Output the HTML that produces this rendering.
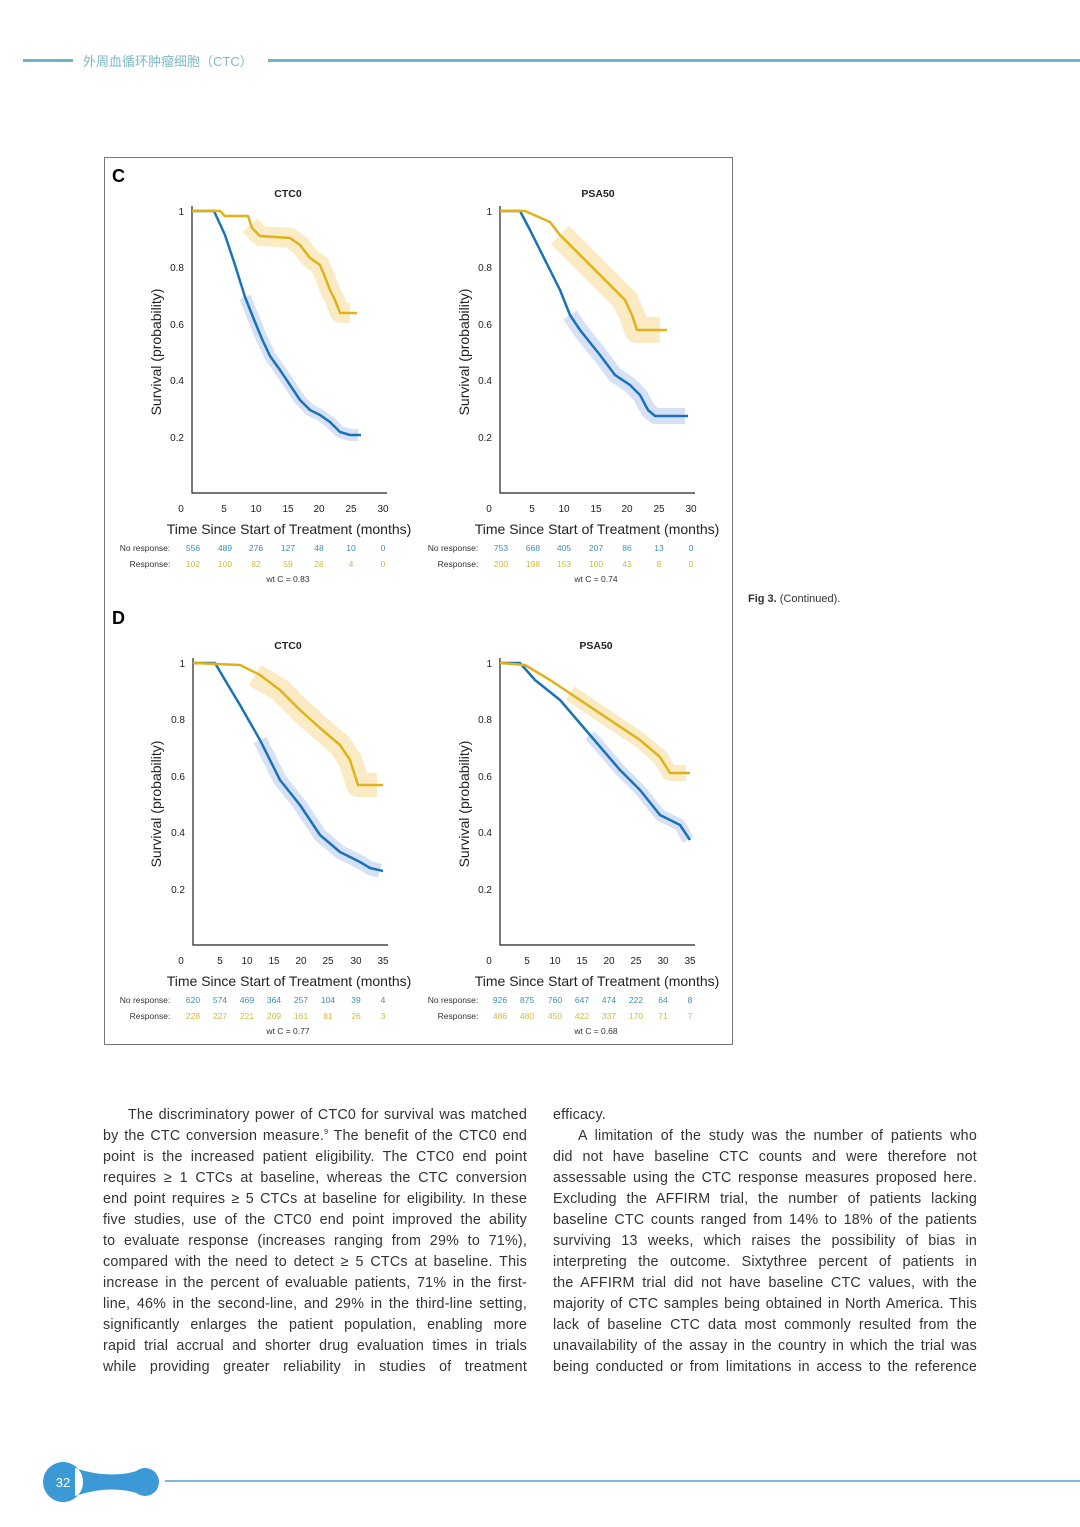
<!DOCTYPE html><html><head><meta charset="utf-8"><style>
body{margin:0;width:1080px;height:1527px;background:#fff;position:relative;font-family:"Liberation Sans","Noto Sans CJK SC",sans-serif;overflow:hidden}
.ln{position:absolute;font-size:14.3px;color:#333;letter-spacing:0.2px;text-align:justify;text-align-last:justify;white-space:nowrap;height:20px;line-height:20px;box-sizing:border-box}
.l{left:103px;width:424px}.r{left:553px;width:424px}
sup{font-size:7px;line-height:0;vertical-align:0;position:relative;top:-6px}
</style></head><body>
<div style="position:absolute;left:23px;top:59px;width:50px;height:3px;background:#6bb5c9"></div>
<div style="position:absolute;left:83px;top:51px;font-size:13px;color:#7fb8c8">外周血循环肿瘤细胞（CTC）</div>
<div style="position:absolute;left:268px;top:59px;width:812px;height:3px;background:#6bb5c9"></div>

<svg width="1080" height="1527" style="position:absolute;left:0;top:0" font-family="Liberation Sans, sans-serif">
<rect x="104.5" y="157.5" width="628" height="887" fill="none" stroke="#777" stroke-width="1"/>
<text x="112" y="182" font-size="18" font-weight="bold">C</text>
<text x="112" y="624" font-size="18" font-weight="bold">D</text>
<g font-size="10" fill="#222">
<g stroke="#222" stroke-width="1.2" fill="none">
<path d="M192 206V493H387"/><path d="M500 206V493H695"/>
<path d="M193 658V945H388"/><path d="M500 658V945H695"/>
</g>
<g font-weight="bold" font-size="10.5" text-anchor="middle"><text x="288" y="197">CTC0</text><text x="598" y="197">PSA50</text><text x="288" y="649">CTC0</text><text x="596" y="649">PSA50</text></g>
<g text-anchor="end">
<text x="184" y="215">1</text><text x="184" y="271">0.8</text><text x="184" y="328">0.6</text><text x="184" y="384">0.4</text><text x="184" y="441">0.2</text>
<text x="492" y="215">1</text><text x="492" y="271">0.8</text><text x="492" y="328">0.6</text><text x="492" y="384">0.4</text><text x="492" y="441">0.2</text>
<text x="185" y="667">1</text><text x="185" y="723">0.8</text><text x="185" y="780">0.6</text><text x="185" y="836">0.4</text><text x="185" y="893">0.2</text>
<text x="492" y="667">1</text><text x="492" y="723">0.8</text><text x="492" y="780">0.6</text><text x="492" y="836">0.4</text><text x="492" y="893">0.2</text>
</g>
<g text-anchor="middle">
<text x="181" y="512">0</text><text x="224" y="512">5</text><text x="256" y="512">10</text><text x="288" y="512">15</text><text x="319" y="512">20</text><text x="351" y="512">25</text><text x="383" y="512">30</text>
<text x="489" y="512">0</text><text x="532" y="512">5</text><text x="564" y="512">10</text><text x="596" y="512">15</text><text x="627" y="512">20</text><text x="659" y="512">25</text><text x="691" y="512">30</text>
<text x="181" y="964">0</text><text x="220" y="964">5</text><text x="247" y="964">10</text><text x="274" y="964">15</text><text x="301" y="964">20</text><text x="328" y="964">25</text><text x="356" y="964">30</text><text x="383" y="964">35</text>
<text x="489" y="964">0</text><text x="527" y="964">5</text><text x="555" y="964">10</text><text x="582" y="964">15</text><text x="609" y="964">20</text><text x="636" y="964">25</text><text x="663" y="964">30</text><text x="690" y="964">35</text>
</g>
<g font-size="14" text-anchor="middle">
<text x="289" y="534">Time Since Start of Treatment (months)</text><text x="597" y="534">Time Since Start of Treatment (months)</text>
<text x="289" y="986">Time Since Start of Treatment (months)</text><text x="597" y="986">Time Since Start of Treatment (months)</text>
<text transform="translate(161,352) rotate(-90)">Survival (probability)</text><text transform="translate(469,352) rotate(-90)">Survival (probability)</text>
<text transform="translate(161,804) rotate(-90)">Survival (probability)</text><text transform="translate(469,804) rotate(-90)">Survival (probability)</text>
</g>
<g font-size="8.5" text-anchor="middle">
<text x="145" y="551" fill="#333">No response:</text><text x="150" y="567" fill="#333">Response:</text>
<g fill="#3a8fb5"><text x="193" y="551">556</text><text x="225" y="551">489</text><text x="256" y="551">276</text><text x="288" y="551">127</text><text x="319" y="551">48</text><text x="351" y="551">10</text><text x="383" y="551">0</text></g>
<g fill="#d4b840"><text x="193" y="567">102</text><text x="225" y="567">100</text><text x="256" y="567">82</text><text x="288" y="567">59</text><text x="319" y="567">28</text><text x="351" y="567">4</text><text x="383" y="567">0</text></g>
<text x="288" y="582" fill="#333">wt C = 0.83</text>
<text x="453" y="551" fill="#333">No response:</text><text x="458" y="567" fill="#333">Response:</text>
<g fill="#3a8fb5"><text x="501" y="551">753</text><text x="533" y="551">668</text><text x="564" y="551">405</text><text x="596" y="551">207</text><text x="627" y="551">86</text><text x="659" y="551">13</text><text x="691" y="551">0</text></g>
<g fill="#d4b840"><text x="501" y="567">200</text><text x="533" y="567">198</text><text x="564" y="567">153</text><text x="596" y="567">100</text><text x="627" y="567">43</text><text x="659" y="567">8</text><text x="691" y="567">0</text></g>
<text x="596" y="582" fill="#333">wt C = 0.74</text>
<text x="145" y="1003" fill="#333">No response:</text><text x="150" y="1019" fill="#333">Response:</text>
<g fill="#3a8fb5"><text x="193" y="1003">620</text><text x="220" y="1003">574</text><text x="247" y="1003">469</text><text x="274" y="1003">364</text><text x="301" y="1003">257</text><text x="328" y="1003">104</text><text x="356" y="1003">39</text><text x="383" y="1003">4</text></g>
<g fill="#d4b840"><text x="193" y="1019">228</text><text x="220" y="1019">227</text><text x="247" y="1019">221</text><text x="274" y="1019">209</text><text x="301" y="1019">161</text><text x="328" y="1019">81</text><text x="356" y="1019">26</text><text x="383" y="1019">3</text></g>
<text x="288" y="1034" fill="#333">wt C = 0.77</text>
<text x="453" y="1003" fill="#333">No response:</text><text x="458" y="1019" fill="#333">Response:</text>
<g fill="#3a8fb5"><text x="500" y="1003">926</text><text x="527" y="1003">875</text><text x="555" y="1003">760</text><text x="582" y="1003">647</text><text x="609" y="1003">474</text><text x="636" y="1003">222</text><text x="663" y="1003">64</text><text x="690" y="1003">8</text></g>
<g fill="#d4b840"><text x="500" y="1019">486</text><text x="527" y="1019">480</text><text x="555" y="1019">450</text><text x="582" y="1019">422</text><text x="609" y="1019">337</text><text x="636" y="1019">170</text><text x="663" y="1019">71</text><text x="690" y="1019">7</text></g>
<text x="596" y="1034" fill="#333">wt C = 0.68</text>
</g>
</g>
<g fill="none" stroke-linejoin="round" opacity="0.3">
<g stroke="#f0c040" stroke-width="20">
<polyline points="250,225 260,236 290,238 300,245 310,258 320,265 325,277 330,290 335,300 340,313 350,313"/>
<polyline points="560,235 580,255 600,275 615,290 625,300 632,315 637,330 660,330" stroke-width="26"/>
<polyline points="255,675 280,690 300,710 320,728 340,745 350,760 358,785 377,785" stroke-width="24"/>
<polyline points="570,693 610,720 640,740 660,757 670,773 686,773" stroke-width="16"/>
</g>
<g stroke="#7a9de0" stroke-width="12">
<polyline points="245,297 255,322 262,339 270,356 280,370 290,385 300,400 310,410 320,415 330,422 340,432 350,435 358,435"/>
<polyline points="570,315 580,330 600,355 615,375 630,385 640,395 648,410 655,416 685,416" stroke-width="16"/>
<polyline points="260,740 280,780 300,805 320,835 340,852 360,862 370,868 380,871" stroke-width="14"/>
<polyline points="590,735 620,770 640,790 660,815 680,825 688,840" stroke-width="12"/>
</g>
</g>
<g fill="none" stroke-width="2.5" stroke-linejoin="round">
<polyline stroke="#1a72b8" points="192,211 214,211 225,235 235,265 245,297 255,322 262,339 270,356 280,370 290,385 300,400 310,410 320,415 330,422 340,432 350,435 361,435"/>
<polyline stroke="#e0b21a" points="192,211 220,211 225,216 248,216 252,228 260,236 290,238 300,245 310,258 320,265 325,277 330,290 335,300 340,313 357,313"/>
<polyline stroke="#1a72b8" points="500,211 520,211 530,230 540,250 560,290 570,315 580,330 600,355 615,375 630,385 640,395 648,410 655,416 688,416"/>
<polyline stroke="#e0b21a" points="500,211 525,211 550,222 560,235 580,255 600,275 615,290 625,300 632,315 637,330 667,330"/>
<polyline stroke="#1a72b8" points="193,663 215,663 225,680 240,705 260,740 280,780 300,805 320,835 340,852 360,862 370,868 383,871"/>
<polyline stroke="#e0b21a" points="193,663 240,665 260,675 280,690 300,710 320,728 340,745 350,760 358,785 383,785"/>
<polyline stroke="#1a72b8" points="500,663 520,663 535,680 560,700 590,735 620,770 640,790 660,815 680,825 690,840"/>
<polyline stroke="#e0b21a" points="500,663 525,665 550,680 580,700 610,720 640,740 660,757 670,773 690,773"/>
</g>
<text x="748" y="602" font-size="11" fill="#333"><tspan font-weight="bold">Fig 3.</tspan> (Continued).</text>
<path d="M63 1462 a20 20 0 1 0 0.1 0Z M75 1468 Q110 1480 140 1470 L140 1494 Q110 1484 75 1496Z" fill="#3b9ad6"/>
<circle cx="145" cy="1482" r="14" fill="#3b9ad6"/>
<text x="63" y="1487" font-size="13" fill="#fff" text-anchor="middle">32</text>
<rect x="165" y="1480" width="915" height="2" fill="#7fb8d8"/>
</svg>

<div class="ln l" style="top:1105px;padding-left:25px">The discriminatory power of CTC0 for survival was matched</div>
<div class="ln l" style="top:1126px">by the CTC conversion measure.<sup>9</sup> The benefit of the CTC0 end</div>
<div class="ln l" style="top:1147px">point is the increased patient eligibility. The CTC0 end point</div>
<div class="ln l" style="top:1168px">requires ≥ 1 CTCs at baseline, whereas the CTC conversion</div>
<div class="ln l" style="top:1189px">end point requires ≥ 5 CTCs at baseline for eligibility. In these</div>
<div class="ln l" style="top:1210px">five studies, use of the CTC0 end point improved the ability</div>
<div class="ln l" style="top:1231px">to evaluate response (increases ranging from 29% to 71%),</div>
<div class="ln l" style="top:1252px">compared with the need to detect ≥ 5 CTCs at baseline. This</div>
<div class="ln l" style="top:1273px">increase in the percent of evaluable patients, 71% in the first-</div>
<div class="ln l" style="top:1294px">line, 46% in the second-line, and 29% in the third-line setting,</div>
<div class="ln l" style="top:1315px">significantly enlarges the patient population, enabling more</div>
<div class="ln l" style="top:1336px">rapid trial accrual and shorter drug evaluation times in trials</div>
<div class="ln l" style="top:1357px">while providing greater reliability in studies of treatment</div>
<div class="ln r" style="top:1105px;text-align-last:left">efficacy.</div>
<div class="ln r" style="top:1126px;padding-left:25px">A limitation of the study was the number of patients who</div>
<div class="ln r" style="top:1147px">did not have baseline CTC counts and were therefore not</div>
<div class="ln r" style="top:1168px">assessable using the CTC response measures proposed here.</div>
<div class="ln r" style="top:1189px">Excluding the AFFIRM trial, the number of patients lacking</div>
<div class="ln r" style="top:1210px">baseline CTC counts ranged from 14% to 18% of the patients</div>
<div class="ln r" style="top:1231px">surviving 13 weeks, which raises the possibility of bias in</div>
<div class="ln r" style="top:1252px">interpreting the outcome. Sixtythree percent of patients in</div>
<div class="ln r" style="top:1273px">the AFFIRM trial did not have baseline CTC values, with the</div>
<div class="ln r" style="top:1294px">majority of CTC samples being obtained in North America. This</div>
<div class="ln r" style="top:1315px">lack of baseline CTC data most commonly resulted from the</div>
<div class="ln r" style="top:1336px">unavailability of the assay in the country in which the trial was</div>
<div class="ln r" style="top:1357px">being conducted or from limitations in access to the reference</div>
</body></html>
